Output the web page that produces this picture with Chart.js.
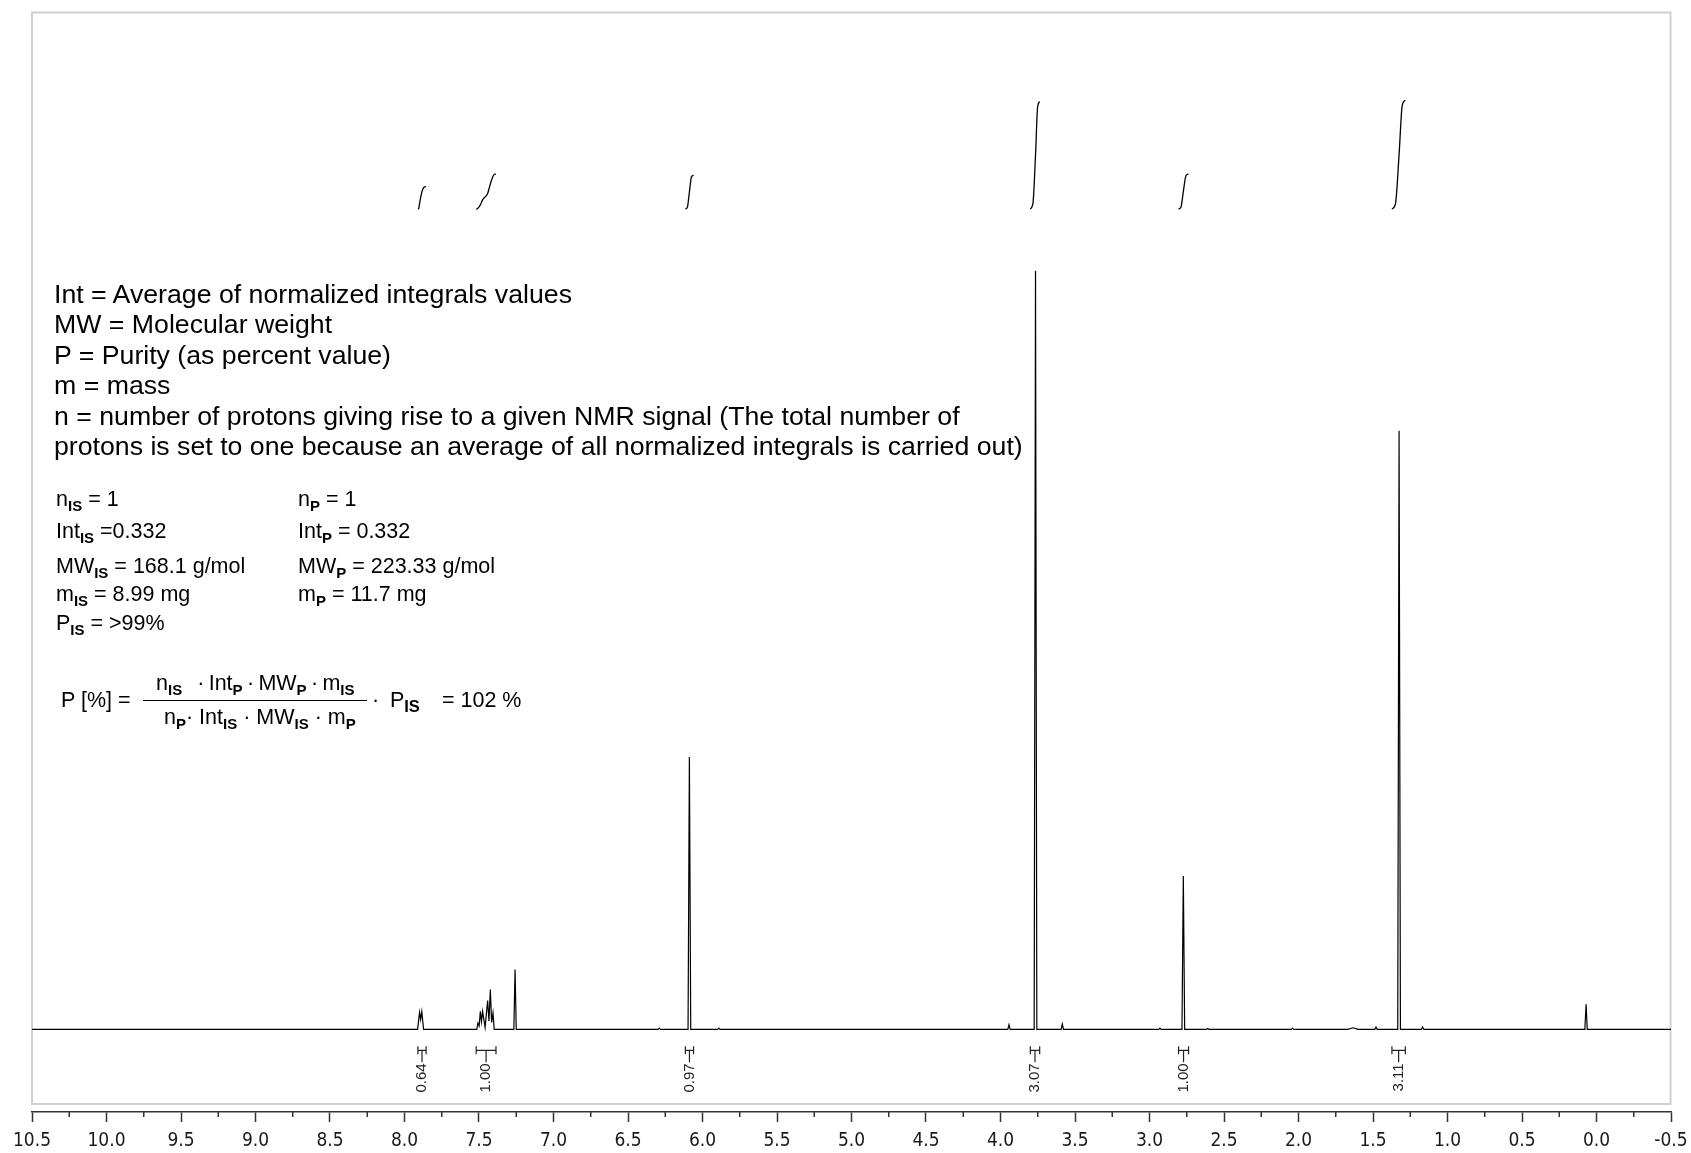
<!DOCTYPE html>
<html>
<head>
<meta charset="utf-8">
<title>1H NMR - qNMR purity</title>
<script src="https://cdn.jsdelivr.net/npm/chart.js@4.4.1/dist/chart.umd.min.js"></script>
<style>
    html, body { margin: 0; padding: 0; background: #fff; overflow: hidden; }
    #wrap { position: relative; width: 1691px; height: 1153px; overflow: hidden; }
    #spectrum { position: absolute; left: 0; top: 0; }
    .note { position: absolute; font-family: "Liberation Sans", Arial, sans-serif; color: #000; white-space: pre; }
    .big { font-size: 26.7px; line-height: 30.4px; }
    .small { font-size: 21.5px; line-height: 24px; }
    .s { font-size: 15px; font-weight: bold; position: relative; top: 5px; }
    .bar { position: absolute; height: 0; border-top: 1.5px solid #000; }
</style>
</head>
<body>
<div id="wrap">
    <canvas id="spectrum" width="1691" height="1170"></canvas>

    <div class="note big" style="left:54px; top:279px;">Int = Average of normalized integrals values
MW = Molecular weight
P = Purity (as percent value)
m = mass
n = number of protons giving rise to a given NMR signal (The total number of
protons is set to one because an average of all normalized integrals is carried out)</div>

    <div class="note small" style="left:56px; top:487px;">n<span class="s">IS</span> = 1</div>
    <div class="note small" style="left:298px; top:487px;">n<span class="s">P</span> = 1</div>
    <div class="note small" style="left:56px; top:519px;">Int<span class="s">IS</span> =0.332</div>
    <div class="note small" style="left:298px; top:519px;">Int<span class="s">P</span> = 0.332</div>
    <div class="note small" style="left:56px; top:554px;">MW<span class="s">IS</span> = 168.1 g/mol</div>
    <div class="note small" style="left:298px; top:554px;">MW<span class="s">P</span> = 223.33 g/mol</div>
    <div class="note small" style="left:56px; top:582px;">m<span class="s">IS</span> = 8.99 mg</div>
    <div class="note small" style="left:298px; top:582px;">m<span class="s">P</span> = 11.7 mg</div>
    <div class="note small" style="left:56px; top:611px;">P<span class="s">IS</span> = &gt;99%</div>

    <div class="note small" style="left:61px; top:688px;">P [%] =</div>
    <div class="note small" style="left:156px; top:671px;">n<span class="s">IS</span>&ensp;&thinsp;·&thinsp;Int<span class="s">P</span>&thinsp;·&thinsp;MW<span class="s">P</span>&thinsp;·&thinsp;m<span class="s">IS</span></div>
    <div class="bar" style="left:143px; top:700px; width:224px;"></div>
    <div class="note small" style="left:164px; top:705px;">n<span class="s">P</span>· Int<span class="s">IS</span> · MW<span class="s">IS</span> · m<span class="s">P</span></div>
    <div class="note small" style="left:372px; top:688px;">·&ensp;P<span class="s" style="font-size:16.5px;">IS</span></div>
    <div class="note small" style="left:442px; top:688px;">= 102 %</div>
</div>

<script>
// ppm axis ticks (labelled) and the small ticks between them
const majorTicks = [10.5, 10.0, 9.5, 9.0, 8.5, 8.0, 7.5, 7.0, 6.5, 6.0, 5.5, 5.0, 4.5, 4.0, 3.5, 3.0, 2.5, 2.0, 1.5, 1.0, 0.5, 0.0, -0.5];
const tickLabels = ["10.5", "10.0", "9.5", "9.0", "8.5", "8.0", "7.5", "7.0", "6.5", "6.0", "5.5", "5.0", "4.5", "4.0", "3.5", "3.0", "2.5", "2.0", "1.5", "1.0", "0.5", "0.0", "-0.5"];
const minorTicks = [10.25, 9.75, 9.25, 8.75, 8.25, 7.75, 7.25, 6.75, 6.25, 5.75, 5.25, 4.75, 4.25, 3.75, 3.25, 2.75, 2.25, 1.75, 1.25, 0.75, 0.25, -0.25];

// spectrum trace: shift (ppm) and relative intensity (3.77 ppm singlet = 100)
const shiftPpm = [
    10.5,
    7.912, 7.899, 7.892, 7.884, 7.872,
    7.515, 7.507, 7.499, 7.491, 7.4835, 7.476, 7.459, 7.442, 7.433, 7.424, 7.415, 7.406, 7.398,
    7.266, 7.258, 7.250,
    6.298, 6.290, 6.282,
    6.097, 6.088, 6.079,
    5.898, 5.890, 5.882,
    3.951, 3.943, 3.935,
    3.774, 3.765, 3.756,
    3.593, 3.585, 3.577,
    2.938, 2.930, 2.922,
    2.782, 2.773, 2.764,
    2.618, 2.610, 2.602,
    2.048, 2.040, 2.032,
    1.670, 1.634, 1.600,
    1.488, 1.480, 1.472,
    1.334, 1.325, 1.316,
    1.175, 1.167, 1.159,
    0.078, 0.070, 0.062,
    -0.5
];
const intensity = [
    0,
    0, 2.24, 1.3, 2.33, 0,
    0, 0.83, 0.45, 2.37, 1.0, 2.37, 0.25, 3.78, 1.1, 5.23, 0.9, 2.15, 0,
    0, 7.87, 0,
    0, 0.15, 0,
    0, 35.9, 0,
    0, 0.15, 0,
    0, 0.62, 0,
    0, 100, 0,
    0, 0.7, 0,
    0, 0.15, 0,
    0, 20.2, 0,
    0, 0.1, 0,
    0, 0.15, 0,
    0, 0.2, 0,
    0, 0.3, 0,
    0, 78.9, 0,
    0, 0.3, 0,
    0, 3.3, 0,
    0
];

// integral regions (ppm) and their normalized values
const integralStart = [7.910, 7.519, 6.115, 3.800, 2.805, 1.373];
const integralEnd = [7.855, 7.386, 6.060, 3.737, 2.738, 1.283];
const integralValue = [0.64, 1.00, 0.97, 3.07, 1.00, 3.11];
const integralLabel = ["0.64", "1.00", "0.97", "3.07", "1.00", "3.11"];

// running integral curve of one region, shaped by the trace apexes inside it
const integralCurve = (i) => {
    const a = integralStart[i];
    const b = integralEnd[i];
    const v = integralValue[i];
    const apex = [];
    for (let k = 1; k < shiftPpm.length - 1; k++) {
        if (shiftPpm[k] < a && shiftPpm[k] > b && intensity[k] > intensity[k - 1] && intensity[k] >= intensity[k + 1]) {
            apex.push(k);
        }
    }
    const total = apex.reduce((s, k) => s + intensity[k], 0);
    const mids = [];
    let run = 0;
    apex.forEach((k) => {
        mids.push({ x: shiftPpm[k], y: v * (run + intensity[k] / 2) / total });
        run += intensity[k];
    });
    const first = mids[0];
    const last = mids[mids.length - 1];
    // small hooks at both ends, like the flat start and finish of a real integral
    return [
        { x: a, y: 0 },
        { x: (a + first.x) / 2, y: 0.1 * first.y },
        ...mids,
        { x: (last.x + b) / 2, y: v - 0.1 * (v - last.y) },
        { x: b, y: v }
    ];
};

// frame, minor ticks and integral brackets
const decorations = {
    id: "decorations",
    beforeDraw(chart) {
        const { ctx, chartArea } = chart;
        ctx.save();
        ctx.strokeStyle = "#d0d0d0";
        ctx.lineWidth = 2;
        ctx.strokeRect(chartArea.left, chartArea.top + 0.5, chartArea.right - chartArea.left - 0.5, chartArea.bottom - chartArea.top - 8.5);
        ctx.restore();
    },
    afterDraw(chart) {
        const { ctx, chartArea, scales } = chart;
        const x = scales.x;
        const base = scales.y.getPixelForValue(0);
        ctx.save();
        ctx.strokeStyle = "#333";
        ctx.lineWidth = 1.5;
        minorTicks.forEach((v) => {
            const px = x.getPixelForValue(v);
            ctx.beginPath();
            ctx.moveTo(px, chartArea.bottom);
            ctx.lineTo(px, chartArea.bottom + 5);
            ctx.stroke();
        });

        ctx.strokeStyle = "#222";
        ctx.fillStyle = "#222";
        ctx.lineWidth = 1.2;
        ctx.font = '15px "Liberation Sans", Arial, sans-serif';
        integralStart.forEach((a, i) => {
            const x1 = x.getPixelForValue(a);
            const x2 = x.getPixelForValue(integralEnd[i]);
            const xc = (x1 + x2) / 2;
            const yb = base + 21;
            ctx.beginPath();
            ctx.moveTo(x1, yb);
            ctx.lineTo(x2, yb);
            ctx.moveTo(x1, yb - 4);
            ctx.lineTo(x1, yb + 4);
            ctx.moveTo(x2, yb - 4);
            ctx.lineTo(x2, yb + 4);
            ctx.moveTo(xc, yb);
            ctx.lineTo(xc, yb + 12);
            ctx.stroke();
            ctx.save();
            ctx.translate(xc, yb + 13);
            ctx.rotate(-Math.PI / 2);
            ctx.textAlign = "right";
            ctx.textBaseline = "middle";
            ctx.fillText(integralLabel[i], 0, 0);
            ctx.restore();
        });
        ctx.restore();
    }
};

const datasets = [{
    data: shiftPpm.map((p, i) => ({ x: p, y: intensity[i] })),
    borderColor: "#000",
    borderWidth: 1.2,
    pointRadius: 0,
    tension: 0,
    yAxisID: "y"
}];
integralStart.forEach((a, i) => {
    datasets.push({
        data: integralCurve(i),
        borderColor: "#000",
        borderWidth: 1.3,
        pointRadius: 0,
        cubicInterpolationMode: "monotone",
        yAxisID: "yInt"
    });
});

const ctx = document.getElementById("spectrum").getContext("2d");
new Chart(ctx, {
    type: "line",
    data: { datasets: datasets },
    options: {
        responsive: false,
        animation: false,
        events: [],
        layout: { padding: { left: 32, right: 20, top: 12, bottom: 10 } },
        plugins: {
            legend: { display: false },
            tooltip: { enabled: false }
        },
        scales: {
            x: {
                type: "linear",
                reverse: true,
                min: -0.5,
                max: 10.5,
                afterBuildTicks: (scale) => {
                    scale.ticks = majorTicks.map((v) => ({ value: v }));
                },
                // let the end labels run past the plot edges, like the original
                afterFit: (scale) => {
                    scale.paddingLeft = 0;
                    scale.paddingRight = 0;
                },
                border: { display: true, color: "#333", width: 1.5 },
                grid: { drawOnChartArea: false, tickLength: 10, tickColor: "#333", tickWidth: 1.5 },
                ticks: {
                    autoSkip: false,
                    maxRotation: 0,
                    padding: 7.6,
                    color: "#1a1a1a",
                    font: { family: '"DejaVu Sans Condensed", "DejaVu Sans", sans-serif', size: 19, lineHeight: 1.2 },
                    callback: (value) => tickLabels[majorTicks.indexOf(value)]
                }
            },
            y: { display: false, min: -10.9, max: 134.1 },
            yInt: { display: false, min: -25.8, max: 5.63 }
        }
    },
    plugins: [decorations]
});
</script>
</body>
</html>
